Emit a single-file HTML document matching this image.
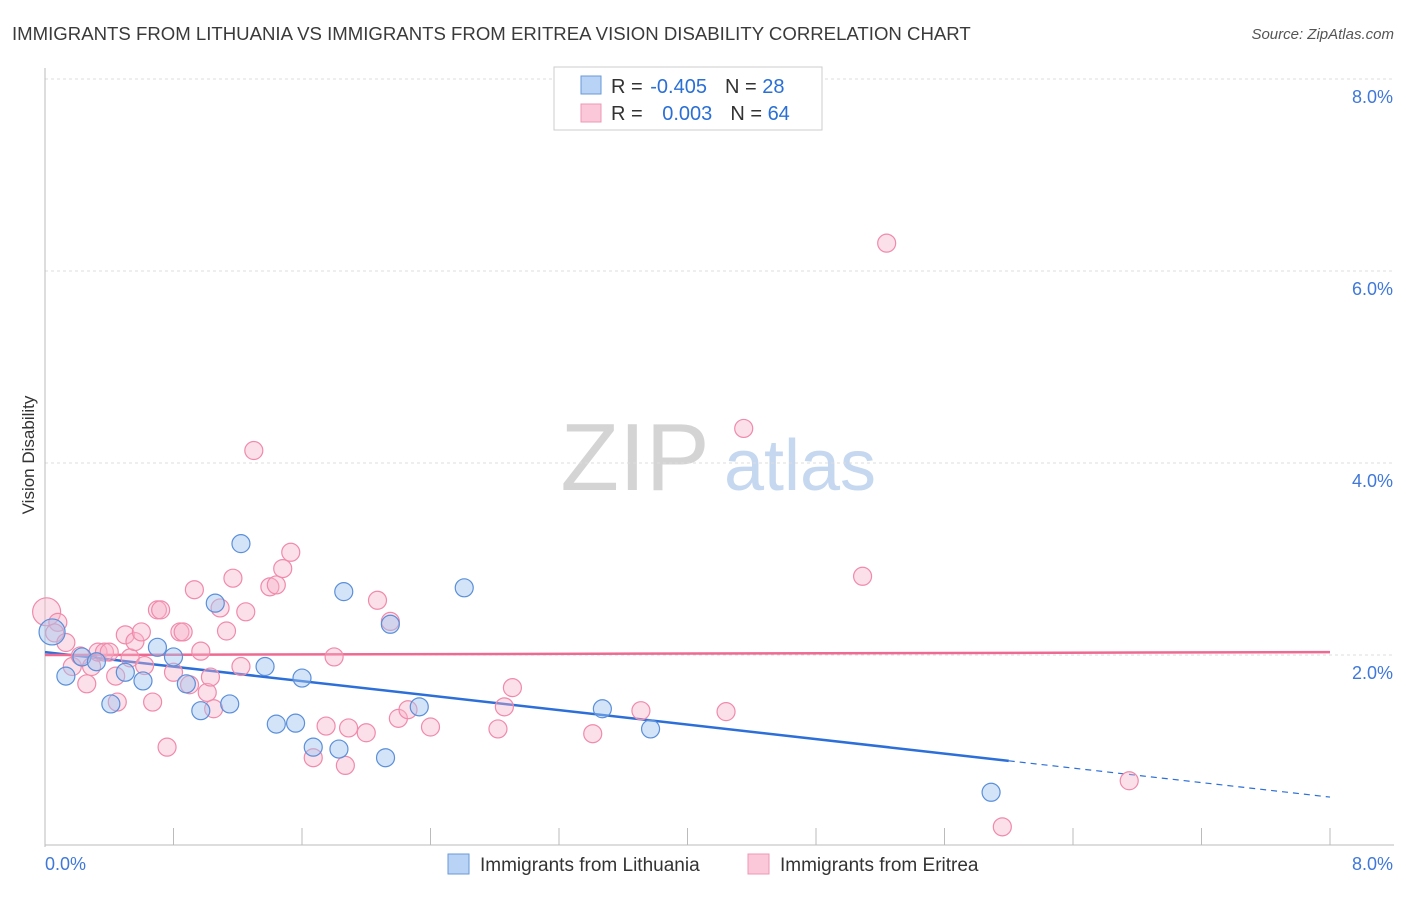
<!DOCTYPE html>
<html><head><meta charset="utf-8"><style>
body{margin:0;background:#fff;font-family:"Liberation Sans",sans-serif;}
svg text{font-family:"Liberation Sans",sans-serif;}
</style></head><body>
<svg id="chart" width="1406" height="892" viewBox="0 0 1406 892" xmlns="http://www.w3.org/2000/svg">
<text x="12" y="40" font-size="18.6" fill="#3a3a3a">IMMIGRANTS FROM LITHUANIA VS IMMIGRANTS FROM ERITREA VISION DISABILITY CORRELATION CHART</text>
<text x="1394" y="39" font-size="15" fill="#555" text-anchor="end" font-style="italic">Source: ZipAtlas.com</text>
<g>
<text x="635" y="490" font-size="96" fill="#d4d4d4" text-anchor="middle" font-family="Liberation Serif,serif">ZIP</text>
<text x="800" y="490" font-size="72" fill="#c5d8f0" text-anchor="middle">atlas</text>
</g>
<g id="grid"></g>
<g id="axes"></g>
<g id="lines"></g>
<g id="points"></g>
<text transform="translate(34,455) rotate(-90)" font-size="17" fill="#333" text-anchor="middle">Vision Disability</text>
<g>
<rect x="554" y="67" width="268" height="63" fill="#fff" stroke="#ccc"/>
<rect x="581" y="76" width="20" height="18" fill="#b8d3f5" stroke="#6a9ad8"/>
<rect x="581" y="104" width="20" height="18" fill="#fac8d8" stroke="#ee97b4"/>
<text x="611" y="93" font-size="20" fill="#333">R = <tspan dx="2" fill="#2a6fd6">-0.405</tspan><tspan dx="18">N = </tspan><tspan fill="#2a6fd6">28</tspan></text>
<text x="611" y="120" font-size="20" fill="#333">R = <tspan dx="14" fill="#2a6fd6">0.003</tspan><tspan dx="18">N = </tspan><tspan fill="#2a6fd6">64</tspan></text>
</g>
<g>
<rect x="448" y="854" width="21" height="20" fill="#b8d3f5" stroke="#6a9ad8"/>
<text x="480" y="871" font-size="19" fill="#333">Immigrants from Lithuania</text>
<rect x="748" y="854" width="21" height="20" fill="#fac8d8" stroke="#ee97b4"/>
<text x="780" y="871" font-size="19" fill="#333">Immigrants from Eritrea</text>
</g>
</svg>
<script>
const yTicks=[2,4,6,8];
const yTickLabels=["2.0%","4.0%","6.0%","8.0%"];
const xEndLabels=["0.0%","8.0%"];
const blueX=[0.044,0.13,0.23,0.32,0.41,0.50,0.61,0.70,0.80,0.88,0.97,1.06,1.15,1.22,1.37,1.44,1.56,1.60,1.67,1.83,1.86,2.12,2.15,2.33,2.61,3.47,3.77,5.89];
const blueY=[2.24,1.78,1.98,1.93,1.49,1.82,1.73,2.08,1.98,1.70,1.42,2.54,1.49,3.16,1.88,1.28,1.29,1.76,1.04,1.02,2.66,0.93,2.32,1.46,2.70,1.44,1.23,0.57];
const pinkX=[0.01,0.08,0.06,0.13,0.17,0.22,0.26,0.29,0.33,0.37,0.40,0.44,0.45,0.50,0.53,0.56,0.60,0.62,0.67,0.70,0.72,0.76,0.80,0.84,0.86,0.90,0.93,0.97,1.01,1.03,1.05,1.09,1.13,1.17,1.22,1.25,1.30,1.40,1.44,1.48,1.53,1.67,1.75,1.80,1.87,1.89,2.00,2.07,2.15,2.20,2.26,2.40,2.82,2.86,2.91,3.41,3.71,4.24,4.35,5.09,5.24,5.96,6.75];
const pinkY=[2.45,2.34,2.23,2.13,1.88,1.99,1.70,1.88,2.03,2.03,2.03,1.78,1.51,2.21,1.97,2.14,2.24,1.89,1.51,2.47,2.47,1.04,1.82,2.24,2.24,1.69,2.68,2.04,1.61,1.77,1.44,2.49,2.25,2.80,1.88,2.45,4.13,2.71,2.73,2.90,3.07,0.93,1.26,1.98,0.85,1.24,1.19,2.57,2.35,1.34,1.43,1.25,1.23,1.46,1.66,1.18,1.42,1.41,4.36,2.82,6.29,0.21,0.69];
const blueTrend=[2.03,0.52];
const pinkTrend=[2.0,2.03];
const X0=45,X1=1330,Y0=847,PX=96;
const sx=v=>X0+(X1-X0)*v/8, sy=v=>Y0-v*PX;
const NS="http://www.w3.org/2000/svg";
function mk(parent,tag,attrs){const e=document.createElementNS(NS,tag);for(const k in attrs)e.setAttribute(k,attrs[k]);document.getElementById(parent).appendChild(e);return e;}
yTicks.forEach((t,i)=>{
 const g=mk('grid','line',{x1:X0,x2:1394,y1:sy(t),y2:sy(t),stroke:'#ddd','stroke-dasharray':'3,3'});
 
 
 const l=mk('axes','text',{x:1393,y:sy(t)+24,'font-size':18,fill:'#3f78d8','text-anchor':'end'});
 l.textContent=yTickLabels[i];
 
 
});
const ya=mk('axes','line',{x1:X0,x2:X0,y1:68,y2:Y0,stroke:'#bbb'});


const xa=mk('axes','line',{x1:X0,x2:1394,y1:845,y2:845,stroke:'#bbb'});


for(let i=0;i<=10;i++){const t=mk('axes','line',{x1:sx(i*0.8),x2:sx(i*0.8),y1:828,y2:845,stroke:'#bbb'});
 
 }
[[0,'start',X0],[8,'end',1393]].forEach((d,i)=>{const l=mk('axes','text',{x:d[2],y:870,'font-size':18,fill:'#3f78d8','text-anchor':d[1]});l.textContent=xEndLabels[i];
 
 });
const bxSplit=6.0;
const by=x=>blueTrend[0]+(blueTrend[1]-blueTrend[0])*x/8;
const b1=mk('lines','line',{x1:sx(0),y1:sy(blueTrend[0]),x2:sx(bxSplit),y2:sy(by(bxSplit)),stroke:'#2d6fd8','stroke-width':2.5});


const b2=mk('lines','line',{x1:sx(bxSplit),y1:sy(by(bxSplit)),x2:sx(8),y2:sy(blueTrend[1]),stroke:'#2d6fd8','stroke-width':1.2,'stroke-dasharray':'6,5'});


const p1=mk('lines','line',{x1:sx(0),y1:sy(pinkTrend[0]),x2:sx(8),y2:sy(pinkTrend[1]),stroke:'#ee6a92','stroke-width':2.5});


pinkX.forEach((x,i)=>{const c=mk('points','circle',{cx:sx(x),cy:sy(pinkY[i]),r:i===0?14:9,fill:'rgba(248,178,200,0.4)',stroke:'#f08aab','stroke-width':1.2});
 
 });
blueX.forEach((x,i)=>{const c=mk('points','circle',{cx:sx(x),cy:sy(blueY[i]),r:i===0?13:9,fill:'rgba(160,196,240,0.45)',stroke:'#5b8fd9','stroke-width':1.2});
 
 });
</script>
</body></html>
